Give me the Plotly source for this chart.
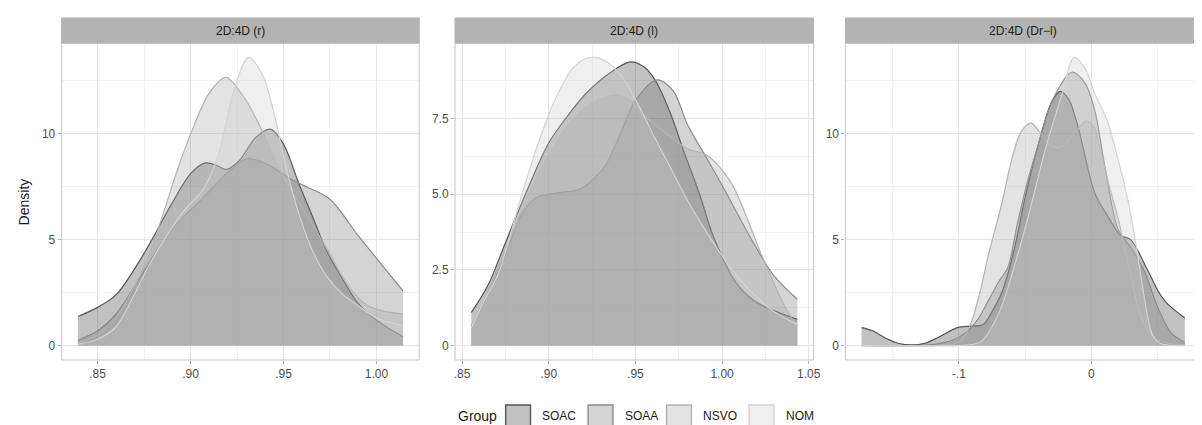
import plotly.graph_objects as go
from plotly.subplots import make_subplots

# ---------------- data ----------------
groups = ["SOAC", "SOAA", "NSVO", "NOM"]
panel_titles = ["2D:4D (r)", "2D:4D (l)", "2D:4D (Dr\u2212l)"]

# Panel 1: 2D:4D (r)
r_soac_x = [0.8394, 0.85, 0.86, 0.874, 0.89, 0.90, 0.9075, 0.914, 0.919, 0.926, 0.935, 0.943, 0.95, 0.958, 0.966, 0.973, 0.982, 0.99, 1.0, 1.0143]
r_soac_y = [1.37, 1.8, 2.4, 4.2, 6.7, 8.1, 8.6, 8.5, 8.3, 8.7, 9.8, 10.2, 9.5, 7.7, 6.0, 4.5, 3.1, 2.0, 1.2, 0.42]
r_soaa_x = [0.8394, 0.85, 0.86, 0.8756, 0.89, 0.906, 0.92, 0.93, 0.94, 0.955, 0.962, 0.975, 0.99, 1.002, 1.0143]
r_soaa_y = [0.25, 0.7, 1.5, 3.6, 5.5, 6.9, 8.16, 8.8, 8.6, 7.8, 7.5, 6.9, 5.2, 3.9, 2.58]
r_nsvo_x = [0.8394, 0.85, 0.86, 0.8774, 0.8845, 0.893, 0.902, 0.91, 0.919, 0.928, 0.937, 0.946, 0.955, 0.965, 0.975, 0.985, 0.995, 1.005, 1.0143]
r_nsvo_y = [0.15, 0.5, 1.3, 4.2, 6.0, 8.3, 10.4, 11.9, 12.64, 11.8, 10.4, 8.6, 7.2, 5.8, 4.3, 2.8, 1.9, 1.6, 1.5]
r_nom_x = [0.8394, 0.85, 0.86, 0.879, 0.895, 0.907, 0.915, 0.923, 0.931, 0.9385, 0.9445, 0.9516, 0.9587, 0.966, 0.973, 0.982, 0.9905, 1.0, 1.0143]
r_nom_y = [0.06, 0.3, 0.9, 4.0, 6.2, 7.4, 9.0, 11.9, 13.58, 12.8, 11.1, 8.3, 6.1, 4.4, 3.3, 2.4, 1.87, 1.3, 0.93]

# Panel 2: 2D:4D (l)
l_soac_x = [0.8553, 0.865, 0.875, 0.888, 0.90, 0.911, 0.922, 0.935, 0.947, 0.955, 0.961, 0.97, 0.978, 0.987, 0.995, 1.008, 1.018, 1.028, 1.0434]
l_soac_y = [1.09, 2.0, 3.4, 5.2, 6.7, 7.6, 8.36, 9.0, 9.37, 9.2, 8.8, 7.7, 6.4, 5.0, 3.6, 2.08, 1.5, 1.2, 0.87]
l_soaa_x = [0.8553, 0.865, 0.875, 0.884, 0.893, 0.905, 0.918, 0.932, 0.942, 0.95, 0.9626, 0.972, 0.98, 0.99, 0.999, 1.018, 1.03, 1.0434]
l_soaa_y = [0.65, 1.7, 3.0, 4.3, 4.9, 5.05, 5.17, 5.9, 7.1, 8.1, 8.78, 8.4, 7.3, 6.3, 5.4, 3.4, 2.3, 1.53]
l_nsvo_x = [0.8553, 0.865, 0.875, 0.887, 0.90, 0.91, 0.92, 0.93, 0.939, 0.947, 0.955, 0.9646, 0.98, 0.991, 1.005, 1.0238, 1.037, 1.0434]
l_nsvo_y = [0.65, 1.8, 3.2, 4.8, 6.3, 7.2, 7.8, 8.15, 8.27, 8.1, 7.6, 7.15, 6.5, 6.3, 5.4, 2.85, 1.2, 0.65]
l_nom_x = [0.8553, 0.862, 0.871, 0.884, 0.894, 0.9034, 0.913, 0.92, 0.927, 0.934, 0.942, 0.95, 0.96, 0.97, 0.982, 0.995, 1.0085, 1.028, 1.0434]
l_nom_y = [0.6, 1.4, 2.4, 4.9, 6.7, 8.1, 9.1, 9.45, 9.52, 9.35, 8.9, 8.14, 7.0, 5.9, 4.6, 3.4, 2.3, 1.2, 0.7]

# Panel 3: 2D:4D (Dr-l)
d_soac_x = [-0.1733, -0.165, -0.155, -0.145, -0.1358, -0.125, -0.115, -0.101, -0.09, -0.0815, -0.075, -0.067, -0.058, -0.05, -0.04, -0.03, -0.0235, -0.017, -0.01, 0.0025, 0.0123, 0.022, 0.0296, 0.042, 0.05, 0.0568, 0.0704]
d_soac_y = [0.85, 0.7, 0.35, 0.1, 0.03, 0.12, 0.4, 0.85, 0.92, 1.0, 1.6, 2.6, 4.6, 7.0, 9.5, 11.5, 12.0, 11.6, 10.3, 7.2, 6.1, 5.2, 5.0, 3.6, 2.6, 2.0, 1.3]
d_soaa_x = [-0.1733, -0.14, -0.12, -0.105, -0.095, -0.085, -0.078, -0.07, -0.063, -0.056, -0.048, -0.04, -0.03, -0.0148, -0.005, 0.0025, 0.01, 0.02, 0.03, 0.04, 0.05, 0.06, 0.0704]
d_soaa_y = [0.0, 0.0, 0.05, 0.25, 0.6, 1.3, 2.1, 3.0, 3.7, 5.7, 7.8, 9.5, 11.5, 12.9, 12.4, 11.1, 8.5, 5.5, 4.6, 3.5, 1.8, 0.6, 0.15]
d_nsvo_x = [-0.1733, -0.12, -0.105, -0.098, -0.09, -0.083, -0.078, -0.068, -0.06, -0.053, -0.0457, -0.038, -0.03, -0.022, -0.012, -0.0037, 0.002, 0.0074, 0.0135, 0.0198, 0.025, 0.0296, 0.037, 0.044, 0.049, 0.06, 0.0704]
d_nsvo_y = [0.0, 0.0, 0.05, 0.24, 1.2, 2.8, 4.2, 6.6, 8.8, 10.1, 10.5, 10.0, 9.4, 9.4, 10.1, 10.6, 10.3, 9.1, 7.5, 6.1, 4.6, 3.3, 1.4, 0.6, 0.3, 0.08, 0.03]
d_nom_x = [-0.1733, -0.1, -0.09, -0.083, -0.07, -0.056, -0.046, -0.035, -0.022, -0.013, -0.005, 0.0025, 0.012, 0.02, 0.027, 0.033, 0.038, 0.042, 0.046, 0.052, 0.0704]
d_nom_y = [0.0, 0.0, 0.05, 0.2, 1.5, 4.2, 6.5, 9.2, 11.9, 13.6, 13.1, 11.9, 10.6, 8.8, 7.0, 5.0, 3.0, 1.5, 0.5, 0.1, 0.0]

panels = [
    [(r_soac_x, r_soac_y), (r_soaa_x, r_soaa_y), (r_nsvo_x, r_nsvo_y), (r_nom_x, r_nom_y)],
    [(l_soac_x, l_soac_y), (l_soaa_x, l_soaa_y), (l_nsvo_x, l_nsvo_y), (l_nom_x, l_nom_y)],
    [(d_soac_x, d_soac_y), (d_soaa_x, d_soaa_y), (d_nsvo_x, d_nsvo_y), (d_nom_x, d_nom_y)],
]

# tick labels
x_tickvals = [[0.85, 0.90, 0.95, 1.00], [0.85, 0.90, 0.95, 1.00, 1.05], [-0.1, 0.0]]
x_ticktext = [[".85", ".90", ".95", "1.00"], [".85", ".90", ".95", "1.00", "1.05"], ["-.1", "0"]]
x_minor = [[0.875, 0.925, 0.975], [0.875, 0.925, 0.975, 1.025], [-0.15, -0.05, 0.05]]
y_tickvals = [[0, 5, 10], [0, 2.5, 5.0, 7.5], [0, 5, 10]]
y_ticktext = [["0", "5", "10"], ["0", "2.5", "5.0", "7.5"], ["0", "5", "10"]]
y_minor = [[2.5, 7.5, 12.5], [1.25, 3.75, 6.25, 8.75], [2.5, 7.5, 12.5]]

# ---------------- styles ----------------
fill_colors = ["rgba(51,51,51,0.3)", "rgba(112,112,112,0.3)", "rgba(162,162,162,0.3)", "rgba(202,202,202,0.3)"]
line_colors = ["#555555", "#8a8a8a", "#b3b3b3", "#d3d3d3"]
FONT = "Liberation Sans, Arial, sans-serif"
W, H = 1202, 425
panel_px = [(53, 413), (449, 810), (842, 1200)]
TOP, BOTTOM, STRIP_TOP = 35, 352, 10


def fx(p):
    return p / W


def fy(p):
    return 1 - p / H


fig = make_subplots(rows=1, cols=3)

for pi, curves in enumerate(panels):
    for gi, (xs, ys) in enumerate(curves):
        fig.add_trace(
            go.Scatter(
                x=xs, y=ys, mode="lines",
                line=dict(color=line_colors[gi], width=1.2, shape="spline", smoothing=0.9),
                fill="tozeroy", fillcolor=fill_colors[gi],
                name=groups[gi], showlegend=False, hoverinfo="skip",
            ),
            row=1, col=pi + 1,
        )

    all_x = [v for xs, _ in curves for v in xs]
    all_y = [v for _, ys in curves for v in ys]
    xlo, xhi = min(all_x), max(all_x)
    xpad = 0.05 * (xhi - xlo)
    ymax = max(all_y)
    ypad = 0.05 * ymax

    xa = "xaxis" if pi == 0 else f"xaxis{pi + 1}"
    ya = "yaxis" if pi == 0 else f"yaxis{pi + 1}"
    x0p, x1p = panel_px[pi]
    fig.update_layout(**{
        xa: dict(
            domain=[fx(x0p), fx(x1p)], range=[xlo - xpad, xhi + xpad],
            tickmode="array", tickvals=x_tickvals[pi], ticktext=x_ticktext[pi],
            showgrid=True, gridcolor="#e6e6e6", gridwidth=1, zeroline=False,
            showline=False, ticks="outside", ticklen=3, tickcolor="#b3b3b3",
            tickfont=dict(family=FONT, size=12, color="#4d4d4d"),
            minor=dict(tickvals=x_minor[pi], showgrid=True, gridcolor="#f2f2f2", gridwidth=1, ticks=""),
        ),
        ya: dict(
            domain=[fy(BOTTOM), fy(TOP)], range=[-ypad, ymax + ypad],
            tickmode="array", tickvals=y_tickvals[pi], ticktext=y_ticktext[pi],
            showgrid=True, gridcolor="#e6e6e6", gridwidth=1, zeroline=False,
            showline=False, ticks="outside", ticklen=3, tickcolor="#b3b3b3",
            tickfont=dict(family=FONT, size=12, color="#4d4d4d"),
            minor=dict(tickvals=y_minor[pi], showgrid=True, gridcolor="#f2f2f2", gridwidth=1, ticks=""),
        ),
    })

    # panel border
    xr = "x" if pi == 0 else f"x{pi + 1}"
    yr = "y" if pi == 0 else f"y{pi + 1}"
    fig.add_shape(type="rect", xref=f"{xr} domain", yref=f"{yr} domain",
                  x0=0, x1=1, y0=0, y1=1, line=dict(color="#c4c4c4", width=1),
                  fillcolor="rgba(0,0,0,0)", layer="above")
    # strip
    fig.add_shape(type="rect", xref="paper", yref="paper",
                  x0=fx(x0p), x1=fx(x1p), y0=fy(TOP), y1=fy(STRIP_TOP),
                  fillcolor="#b3b3b3", line=dict(color="#b3b3b3", width=1), layer="above")
    fig.add_annotation(x=(fx(x0p) + fx(x1p)) / 2, y=(fy(TOP) + fy(STRIP_TOP)) / 2,
                       xref="paper", yref="paper", text=panel_titles[pi], showarrow=False,
                       font=dict(family=FONT, size=12, color="#1a1a1a"),
                       xanchor="center", yanchor="middle")

# y-axis title
fig.add_annotation(x=fx(15), y=(fy(TOP) + fy(BOTTOM)) / 2, xref="paper", yref="paper",
                   text="Density", textangle=-90, showarrow=False,
                   font=dict(family=FONT, size=14, color="#1a1a1a"),
                   xanchor="center", yanchor="middle")

# ---------------- legend (drawn manually) ----------------
LEG_Y = 408
KEY_W, KEY_H = 25, 22
key_x0 = [500, 583, 662, 745]
fig.add_annotation(x=fx(493), y=fy(LEG_Y), xref="paper", yref="paper", text="Group",
                   showarrow=False, xanchor="right", yanchor="middle",
                   font=dict(family=FONT, size=14, color="#1a1a1a"))
for gi, g in enumerate(groups):
    kx = key_x0[gi]
    fig.add_shape(type="rect", xref="paper", yref="paper",
                  x0=fx(kx), x1=fx(kx + KEY_W), y0=fy(LEG_Y + KEY_H / 2), y1=fy(LEG_Y - KEY_H / 2),
                  fillcolor=fill_colors[gi], line=dict(color=line_colors[gi], width=1.4))
    fig.add_annotation(x=fx(kx + KEY_W + 10), y=fy(LEG_Y), xref="paper", yref="paper", text=g,
                       showarrow=False, xanchor="left", yanchor="middle",
                       font=dict(family=FONT, size=12, color="#1a1a1a"))

fig.update_layout(
    width=W, height=H, margin=dict(l=0, r=0, t=0, b=0),
    paper_bgcolor="white", plot_bgcolor="white", showlegend=False,
    font=dict(family=FONT),
)

fig.write_html("out.html")
